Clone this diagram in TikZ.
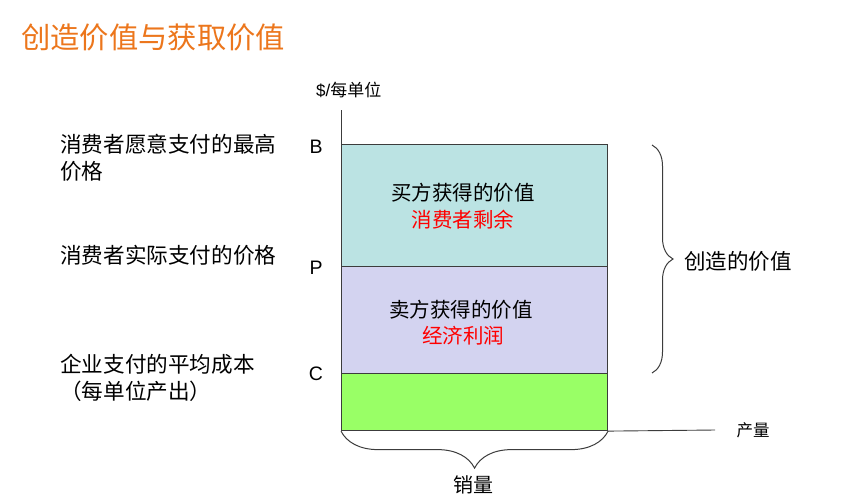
\documentclass[tikz,border=0pt]{standalone}
\usepackage{fontspec}
\setmainfont{Noto Sans CJK SC}
\newfontfamily\latinsf{Liberation Sans}
\usetikzlibrary{decorations.pathreplacing}
\definecolor{titleorange}{RGB}{236,118,28}
\definecolor{boxcyan}{RGB}{187,227,227}
\definecolor{boxpurple}{RGB}{211,211,240}
\definecolor{boxgreen}{RGB}{153,255,102}
\definecolor{edgegray}{RGB}{60,60,60}
\tikzset{
  band/.style={draw=edgegray, line width=1.1pt, minimum width=266pt, inner sep=0pt, anchor=north west},
  lbl/.style={font=\fontsize{20.5}{25}\selectfont, inner sep=0pt},
  side/.style={font=\fontsize{21.6}{27}\selectfont, inner sep=0pt, anchor=west, align=left},
  tick/.style={font=\latinsf\fontsize{19.5}{20}\selectfont, inner sep=0pt},
  axis/.style={draw=edgegray, line width=0.9pt},
  bracestyle/.style={draw=edgegray, line width=1pt, decorate}
}
\begin{document}
\begin{tikzpicture}[x=1pt,y=-1pt]
\useasboundingbox (0,0) rectangle (843,499);
% title
\node[font=\fontsize{29.3}{32}\selectfont, text=titleorange, anchor=west, inner sep=0pt] (title) at (21,37) {创造价值与获取价值};
% bands
\node[band, fill=boxcyan, minimum height=122pt] (cs) at (341,144) {};
\node[band, fill=boxpurple, minimum height=107pt] (ep) at (341,266) {};
\node[band, fill=boxgreen, minimum height=57pt] (cost) at (341,373) {};
% axes
\coordinate (ytop) at (341,110);
\coordinate (xend) at (715,430);
\draw[axis] (ytop) -- (cs.north west);
\draw[axis] (cost.south east) -- (xend);
\node[font=\fontsize{17}{20}\selectfont, inner sep=0pt, anchor=west] (ylab) at (316,90) {{\latinsf \$/}每单位};
\node[font=\fontsize{16.5}{20}\selectfont, inner sep=0pt] (xlab) at (753,430) {产量};
% ticks
\node[tick] (B) at (316,147) {B};
\node[tick] (P) at (316,268) {P};
\node[tick] (C) at (316,374) {C};
% band texts
\node[lbl] (t1) at (463,193) {买方获得的价值};
\node[lbl, text=red] (t2) at (463,220) {消费者剩余};
\node[lbl] (t3) at (461,310) {卖方获得的价值};
\node[lbl, text=red] (t4) at (463,336) {经济利润};
% side labels
\node[side] (s1) at (60,158) {消费者愿意支付的最高\\价格};
\node[side] (s2) at (60,255) {消费者实际支付的价格};
\node[side] (s3) at (60,378) {企业支付的平均成本\\（每单位产出）};
% right brace
\coordinate (rb1) at (652,145);
\coordinate (rb2) at (652,373);
\draw[bracestyle, decoration={brace, amplitude=21pt}] (rb1) -- (rb2);
\node[font=\fontsize{21.5}{25}\selectfont, inner sep=0pt, anchor=west] (created) at (684,261) {创造的价值};
% bottom brace
\draw[bracestyle, decoration={brace, amplitude=37pt}] (cost.south east) -- (cost.south west);
\node[font=\fontsize{20}{24}\selectfont, inner sep=0pt] (sales) at (473,485) {销量};
\end{tikzpicture}
\end{document}
